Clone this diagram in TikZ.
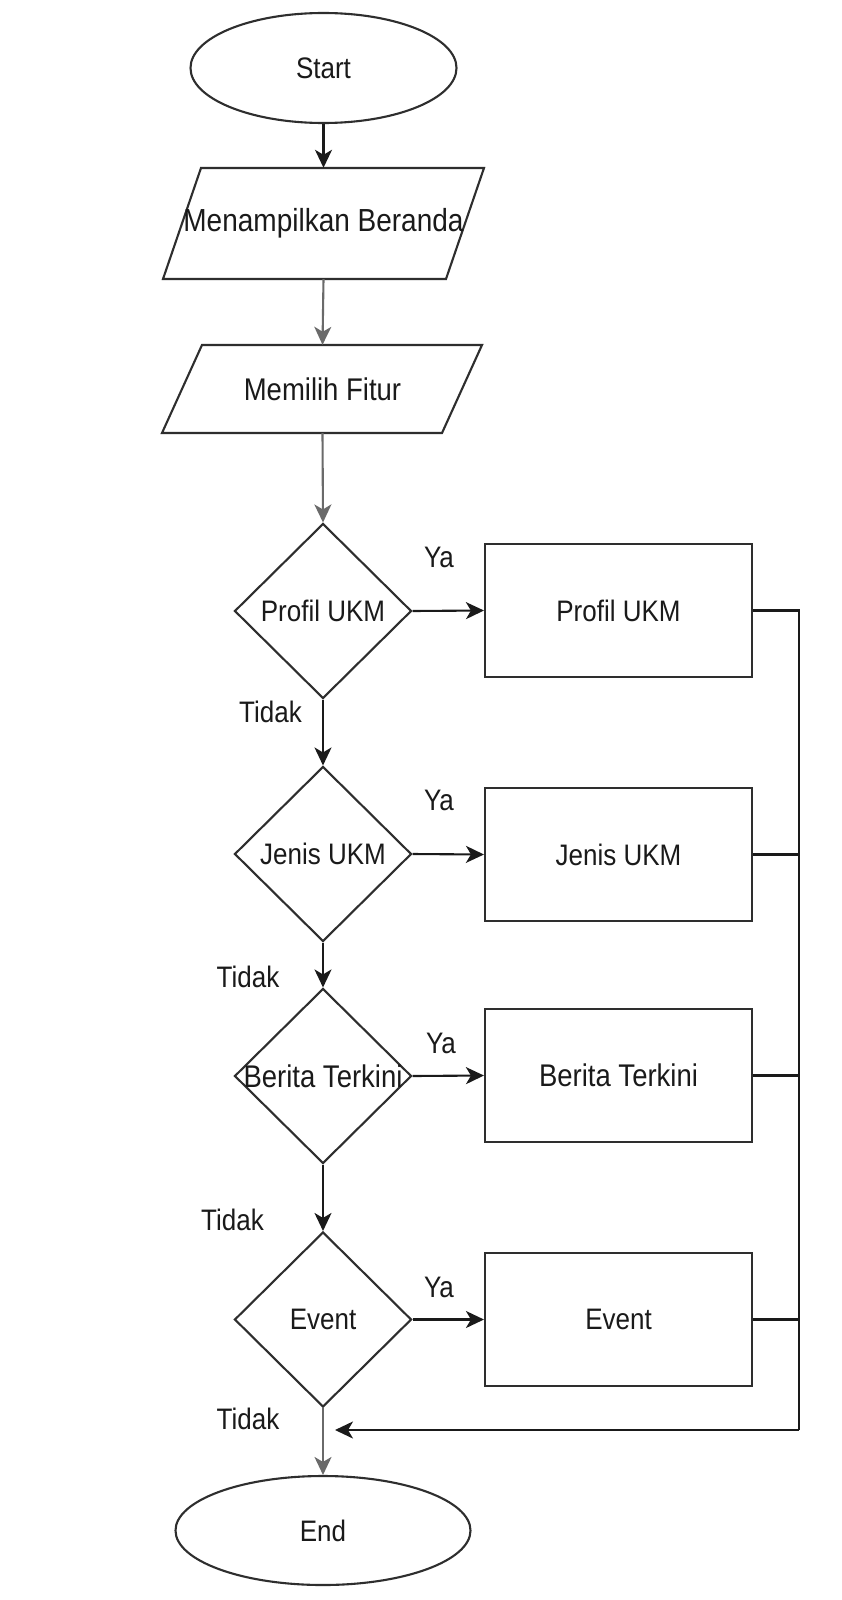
\documentclass[tikz,border=0pt]{standalone}
\usepackage{graphicx}
\usepackage{fontspec}
\setmainfont{Liberation Sans}
\usetikzlibrary{shapes.geometric,arrows.meta}
\newcommand{\tx}[1]{\scalebox{1}[1.14]{#1}}
\definecolor{ink}{HTML}{1A1A1A}
\definecolor{edge}{HTML}{2E2E2E}
\definecolor{greyline}{HTML}{6A6A6A}
\begin{document}
\begin{tikzpicture}[x=1pt,y=-1pt,
  every node/.style={font=\fontsize{26}{30}\selectfont, text=ink},
  bigtext/.style={font=\fontsize{27.5}{32}\selectfont},
  outline/.style={draw=edge, line width=2.1pt, fill=white},
  terminal/.style={outline, ellipse, minimum width=266, minimum height=110, inner sep=0},
  decision/.style={outline, diamond, minimum width=177, minimum height=175, inner sep=0},
  process/.style={outline, rectangle, minimum width=267, minimum height=133},
  ioframe/.style={rectangle, minimum width=250, minimum height=111, inner sep=0},
  conn/.style={draw=ink, line width=2.1pt},
  arr/.style={conn, -{Stealth[length=18pt,width=17pt,inset=5pt]}},
  garr/.style={arr, draw=greyline},
  lbl/.style={inner sep=0}
]
\useasboundingbox[fill=white] (0,0) rectangle (841,1600);

% Start
\node[terminal] (start) at (323.5,68) {\tx{Start}};

% Parallelograms
\draw[outline] (201,168) -- (484,168) -- (446,279) -- (163,279) -- cycle;
\node[ioframe, font=\fontsize{28}{32}\selectfont] (p1) at (323.5,223.5) {\tx{Menampilkan Beranda}};
\draw[outline] (202,345) -- (482,345) -- (442,433) -- (162,433) -- cycle;
\node[ioframe, minimum height=88, bigtext] (p2) at (322.5,389) {\tx{Memilih Fitur}};

% Decisions
\node[decision, label={center:\tx{Profil UKM}}] (d1) at (323,611) {};
\node[decision, label={[bigtext]center:\tx{Berita Terkini}}] (d3) at (323,1076) {};
\node[decision, label={center:\tx{Jenis UKM}}] (d2) at (323,854) {};
\node[decision, label={center:\tx{Event}}] (d4) at (323,1319.5) {};

% Processes
\node[process] (r1) at (618.5,610.5) {\tx{Profil UKM}};
\node[process] (r2) at (618.5,854.5) {\tx{Jenis UKM}};
\node[process, bigtext] (r3) at (618.5,1075.5) {\tx{Berita Terkini}};
\node[process] (r4) at (618.5,1319.5) {\tx{Event}};

% End
\node[terminal, minimum width=295, minimum height=109] (end) at (323,1530.5) {\tx{End}};

% Main axis connectors
\draw[arr] (start.south) -- (p1.north);
\draw[garr] (p1.south) -- (p2.north);
\draw[garr] (p2.south) -- (d1.north);
\draw[arr] (d1.south) -- (d2.north);
\draw[arr] (d2.south) -- (d3.north);
\draw[arr] (d3.south) -- (d4.north);
\draw[garr] (d4.south) -- (end.north);

% Ya connectors
\draw[arr] (d1.east) -- (r1.west);
\draw[arr] (d2.east) -- (r2.west);
\draw[arr] (d3.east) -- (r3.west);
\draw[arr] (d4.east) -- (r4.west);

% Return bus
\coordinate (bustop) at (799,610.5);
\coordinate (busbot) at (799,1430);
\coordinate (join) at (335,1430);
\draw[conn] (r1.east) -- (bustop) -- (busbot);
\draw[conn] (r2.east) -- (r2.east -| bustop);
\draw[conn] (r3.east) -- (r3.east -| bustop);
\draw[conn] (r4.east) -- (r4.east -| bustop);
\draw[arr] (busbot) -- (join);

% Labels
\node[lbl] (ya1) at (439,557) {\tx{Ya}};
\node[lbl] (ya2) at (439,800) {\tx{Ya}};
\node[lbl] (ya3) at (441,1043) {\tx{Ya}};
\node[lbl] (ya4) at (439,1287) {\tx{Ya}};
\node[lbl] (no1) at (270.5,711.5) {\tx{Tidak}};
\node[lbl] (no2) at (248,976.5) {\tx{Tidak}};
\node[lbl] (no3) at (232.5,1219.5) {\tx{Tidak}};
\node[lbl] (no4) at (248,1418.5) {\tx{Tidak}};
\end{tikzpicture}
\end{document}
